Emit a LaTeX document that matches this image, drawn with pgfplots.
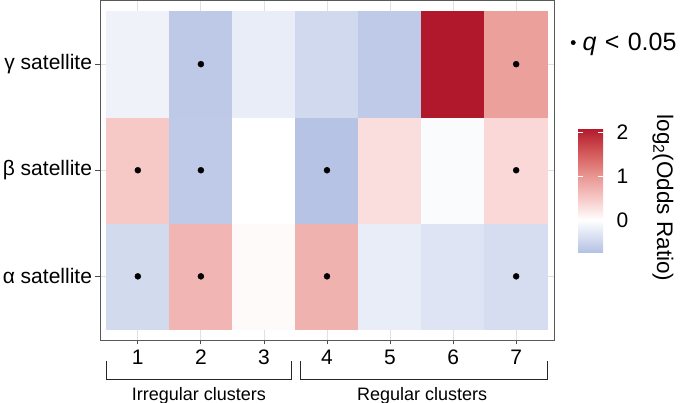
\documentclass[border=0pt]{standalone}
\usepackage{pgfplots}
\pgfplotsset{compat=1.18}
\usepackage{pgfplotstable}
\usepackage{fontspec}
\setmainfont{Liberation Sans}

% log2 odds ratio per cluster (x) and satellite (y: 1=alpha, 2=beta, 3=gamma)
\pgfplotstableread{
x y c
1 1 -0.44
2 1 0.68
3 1 0.045
4 1 0.72
5 1 -0.21
6 1 -0.32
7 1 -0.40
1 2 0.50
2 2 -0.63
3 2 0.0
4 2 -0.71
5 2 0.30
6 2 -0.05
7 2 0.35
1 3 -0.15
2 3 -0.64
3 3 -0.21
4 3 -0.45
5 3 -0.63
6 3 2.09
7 3 0.90
}\oddstab

% cells with q < 0.05
\pgfplotstableread{
x y
2 3
7 3
1 2
2 2
4 2
7 2
1 1
2 1
4 1
7 1
}\sigtab

\begin{document}
\begin{tikzpicture}
\useasboundingbox (0,0) rectangle (686pt,403pt);
\begin{axis}[
    at={(100pt,63pt)}, anchor=south west,
    scale only axis,
    width=454pt, height=339.5pt,
    xmin=0.4, xmax=7.6, ymin=0.4, ymax=3.6,
    xtick={1,...,7}, ytick={1,2,3},
    yticklabels={α satellite, β satellite, γ satellite},
    xtick pos=lower, ytick pos=lower,
    tick align=outside,
    major tick length=4.5pt,
    tick style={black!70, line width=0.8pt},
    axis line style={black!65, line width=0.8pt},
    grid=major,
    grid style={black!12, line width=0.8pt},
    ticklabel style={font=\fontsize{21}{24}\selectfont},
    xticklabel style={yshift=-2pt},
    /pgf/number format/assume math mode=true,
    colormap={oddsmap}{rgb255(0pt)=(178,192,226); rgb255(75pt)=(255,255,255); rgb255(125pt)=(246,200,198); rgb255(175pt)=(233,150,146); rgb255(225pt)=(212,92,92); rgb255(284pt)=(178,24,43)},
    point meta min=-0.75, point meta max=2.09,
    colorbar,
    colorbar/width=25pt,
    colorbar style={
        at={(parent axis.north east)}, anchor=north west,
        xshift=15.5pt, yshift=-127.5pt,
        scale only axis,
        width=25pt, height=125pt,
        ytick={0,1,2},
        yticklabel pos=right,
        ytick pos=both,
        axis line style={draw=none},
        tick align=inside,
        major tick length=5pt,
        tick style={white, line width=0.7pt},
        yticklabel style={font=\fontsize{21}{24}\selectfont, xshift=10pt},
        /pgf/number format/assume math mode=true,
        every axis y label/.style={at={(axis description cs:3.4,0.44)}, rotate=-90, anchor=center, font=\fontsize{22.5}{24}\selectfont},
        ylabel={log\textsubscript{2}(Odds Ratio)},
    },
    legend style={draw=none, fill=none, at={(axis description cs:1.03,0.876)}, anchor=west,
        font=\fontsize{25}{27}\selectfont},
    legend image code/.code={\fill[black] (0pt,0pt) circle (2.2pt);},
    clip=false,
]
\addplot[matrix plot*, mesh/cols=7, mesh/rows=3, point meta=explicit, forget plot]
    table[x=x, y=y, meta=c] {\oddstab};
\addplot[only marks, mark=*, mark size=3pt, black] table[x=x, y=y] {\sigtab};
\addlegendentry{\hspace{5pt}\textit{q}\,\,<\,\,0.05}

% cluster brackets
\draw[line width=0.8pt, black!85] (axis cs:0.495,0.205) |- (axis cs:3.439,0.029) -- (axis cs:3.439,0.205);
\draw[line width=0.8pt, black!85] (axis cs:3.581,0.205) |- (axis cs:7.488,0.029) -- (axis cs:7.488,0.205);
\node[anchor=base, font=\fontsize{18}{20}\selectfont] at (axis cs:1.969,-0.166) {Irregular clusters};
\node[anchor=base, font=\fontsize{18}{20}\selectfont] at (axis cs:5.509,-0.166) {Regular clusters};
\end{axis}
\end{tikzpicture}
\end{document}
